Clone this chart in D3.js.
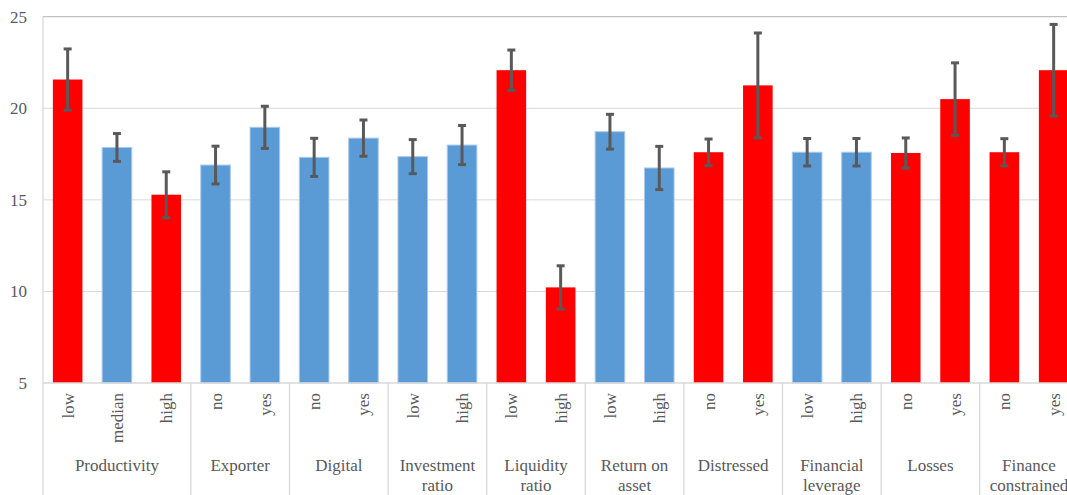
<!DOCTYPE html>
<html>
<head>
<meta charset="utf-8">
<script src="https://cdn.jsdelivr.net/npm/d3@7"></script>
<style>
html,body{margin:0;padding:0;background:#fff;}
svg{display:block;}
svg text{font-family:'Liberation Serif','Times New Roman',Times,'DejaVu Serif',serif !important;fill:#595959;}
</style>
</head>
<body>
<svg id="chart" width="1067" height="495"></svg>
<script>
// ---- data ----
const groups = ["Productivity","Exporter","Digital","Investment ratio","Liquidity ratio","Return on asset","Distressed","Financial leverage","Losses","Finance constrained"];
const groupLines = [["Productivity"],["Exporter"],["Digital"],["Investment","ratio"],["Liquidity","ratio"],["Return on","asset"],["Distressed"],["Financial","leverage"],["Losses"],["Finance","constrained"]];
const barGroup = [0,0,0,1,1,2,2,3,3,4,4,5,5,6,6,7,7,8,8,9,9];
const subLabels = ["low","median","high","no","yes","no","yes","low","high","low","high","low","high","no","yes","low","high","no","yes","no","yes"];
const values = [21.57,17.86,15.28,16.9,18.96,17.32,18.37,17.36,17.99,22.08,10.22,18.72,16.74,17.6,21.25,17.6,17.6,17.56,20.5,17.6,22.08];
const errors = [1.67,0.76,1.25,1.03,1.15,1.04,0.99,0.93,1.07,1.1,1.18,0.95,1.18,0.72,2.86,0.75,0.75,0.82,1.98,0.74,2.5];
const highlighted = [1,0,1,0,0,0,0,0,0,1,1,0,0,1,1,0,0,1,1,1,1];
const yTicks = [5,10,15,20,25];

// ---- layout ----
const FONT = "'Liberation Serif','Times New Roman',Times,'DejaVu Serif',serif";
const svg = d3.select("#chart");
const mLeft = 43, mRight = 1078.3, mTop = 16.7, mBottom = 383;
const idx = d3.range(values.length);
const x = d3.scaleBand().domain(idx).range([mLeft, mRight]).paddingInner(0.4).paddingOuter(0.2);
const y = d3.scaleLinear().domain([5,25]).range([mBottom, mTop]);
const step = x.step();
const bx = i => x(i) - step * 0.2; // boundary before bar i

// gridlines
svg.append("g").selectAll("line").data(yTicks.filter(t => t > 5 && t < 25)).join("line")
  .attr("x1", mLeft).attr("x2", 1067).attr("y1", d => y(d)).attr("y2", d => y(d))
  .attr("stroke", "#d9d9d9").attr("stroke-width", 1);
// top border
svg.append("line").attr("x1", mLeft).attr("x2", 1067).attr("y1", y(25)).attr("y2", y(25))
  .attr("stroke", "#bfbfbf").attr("stroke-width", 1.3);

// y axis labels
const yAxis = d3.axisLeft(y).tickValues(yTicks).tickSize(0).tickPadding(16);
const yg = svg.append("g").attr("transform", `translate(${mLeft},0)`).call(yAxis)
  .attr("font-family", FONT).attr("font-size", 17);
yg.select(".domain").remove();
yg.selectAll("text").attr("fill", "#595959").attr("font-family", FONT).attr("font-size", 17);

// bars
svg.append("g").selectAll("rect").data(idx).join("rect")
  .attr("x", i => x(i)).attr("width", x.bandwidth())
  .attr("y", i => y(values[i])).attr("height", i => y(5) - y(values[i]))
  .attr("fill", i => highlighted[i] ? "#ff0000" : "#5b9bd5")
  .attr("stroke", i => highlighted[i] ? "none" : "#a9c8ea")
  .attr("stroke-width", 1);

// error bars
const eg = svg.append("g").attr("stroke", "#595959").attr("stroke-width", 3);
idx.forEach(i => {
  const cx = x(i) + x.bandwidth() / 2;
  const y1 = y(values[i] + errors[i]), y2 = y(values[i] - errors[i]);
  eg.append("line").attr("x1", cx).attr("x2", cx).attr("y1", y1).attr("y2", y2);
  eg.append("line").attr("x1", cx - 4).attr("x2", cx + 4).attr("y1", y1).attr("y2", y1);
  eg.append("line").attr("x1", cx - 4).attr("x2", cx + 4).attr("y1", y2).attr("y2", y2);
});

// x axis line
svg.append("line").attr("x1", mLeft).attr("x2", 1067).attr("y1", mBottom).attr("y2", mBottom)
  .attr("stroke", "#d9d9d9").attr("stroke-width", 1.3);
// left axis line
svg.append("line").attr("x1", mLeft).attr("x2", mLeft).attr("y1", mTop).attr("y2", 495)
  .attr("stroke", "#d9d9d9").attr("stroke-width", 1.3);

// group separators
const groupStart = groups.map((g, gi) => barGroup.indexOf(gi));
const groupEnd = groups.map((g, gi) => barGroup.lastIndexOf(gi));
svg.append("g").selectAll("line").data(groupStart.slice(1)).join("line")
  .attr("x1", i => bx(i)).attr("x2", i => bx(i))
  .attr("y1", mBottom).attr("y2", 495)
  .attr("stroke", "#d9d9d9").attr("stroke-width", 1.3);

// sub labels (rotated)
svg.append("g").attr("font-family", FONT).attr("font-size", 17)
  .selectAll("text").data(idx).join("text")
  .attr("transform", i => `translate(${x(i) + x.bandwidth() / 2},393) rotate(-90)`)
  .attr("text-anchor", "end").attr("y", 6)
  .text(i => subLabels[i]);

// group labels
const gl = svg.append("g").attr("font-family", FONT).attr("font-size", 17);
groups.forEach((g, gi) => {
  const cx = (bx(groupStart[gi]) + bx(groupEnd[gi]) + step) / 2;
  const t = gl.append("text").attr("text-anchor", "middle");
  groupLines[gi].forEach((line, li) => {
    t.append("tspan").attr("x", cx).attr("y", 471 + li * 20).text(line);
  });
});
</script>
</body>
</html>
